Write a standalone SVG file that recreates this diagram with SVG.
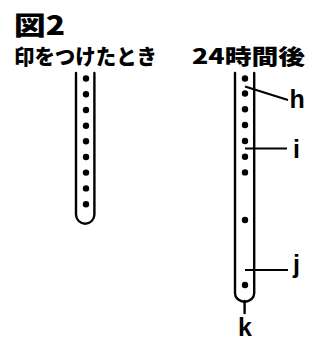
<svg xmlns="http://www.w3.org/2000/svg" width="324" height="341" viewBox="0 0 324 341">
  <style>
    .jp { font-family: "Noto Sans CJK JP", sans-serif; font-weight: 900; fill: #000; }
    .lbl { font-family: "Liberation Sans", Arial, sans-serif; font-weight: bold; font-size: 25px; fill: #000; }
    .tube { fill: none; stroke: #000; stroke-width: 2.4; stroke-linecap: round; }
    .dot { fill: #000; }
    .lead { fill: none; stroke: #000; stroke-width: 2.2; }
  </style>
  <defs>
    <circle id="d" r="3.2" class="dot"/>
  </defs>
  <rect width="324" height="341" fill="#fff"/>

  <text class="jp" x="14" y="35" font-size="26" textLength="51" lengthAdjust="spacingAndGlyphs">図2</text>
  <text class="jp" x="14" y="64" font-size="21" textLength="143" lengthAdjust="spacingAndGlyphs">印をつけたとき</text>
  <text class="jp" x="192" y="64" font-size="21" textLength="113" lengthAdjust="spacingAndGlyphs">24時間後</text>

  <!-- tube at marking time -->
  <g id="tube-start">
    <path class="tube" d="M76,73 V214.5 A9.2,9.2 0 0 0 94.4,214.5 V73"/>
    <use href="#d" x="86" y="78.5"/>
    <use href="#d" x="86" y="94.3"/>
    <use href="#d" x="86" y="110"/>
    <use href="#d" x="86" y="125.7"/>
    <use href="#d" x="86" y="141.3"/>
    <use href="#d" x="86" y="157"/>
    <use href="#d" x="86" y="172.6"/>
    <use href="#d" x="86" y="188.4"/>
    <use href="#d" x="86" y="204.2"/>
  </g>

  <!-- tube after 24 hours -->
  <g id="tube-24h">
    <path class="tube" d="M235,73 V293 Q235,300 244.6,302 Q254.2,300 254.2,293 V73"/>
    <line class="tube" x1="244.6" y1="301" x2="244.6" y2="313"/>
    <use href="#d" x="245" y="78.5"/>
    <use href="#d" x="245" y="93.5"/>
    <use href="#d" x="245" y="109.3"/>
    <use href="#d" x="245" y="125"/>
    <use href="#d" x="245" y="141"/>
    <use href="#d" x="245" y="156.7"/>
    <use href="#d" x="245" y="172.4"/>
    <use href="#d" x="245" y="220"/>
    <use href="#d" x="245" y="285"/>
  </g>

  <g id="connectors">
    <line class="lead" x1="245" y1="86.5" x2="288" y2="100"/>
    <line class="lead" x1="245" y1="148.5" x2="287" y2="148.5"/>
    <line class="lead" x1="245" y1="270" x2="288" y2="270"/>
  </g>

  <g id="label-h"><text class="lbl" x="289.5" y="107.5">h</text></g>
  <g id="label-i"><text class="lbl" x="293" y="158">i</text></g>
  <g id="label-j"><text class="lbl" x="293" y="273">j</text></g>
  <g id="label-k"><text class="lbl" x="238" y="336" font-size="24">k</text></g>
</svg>
